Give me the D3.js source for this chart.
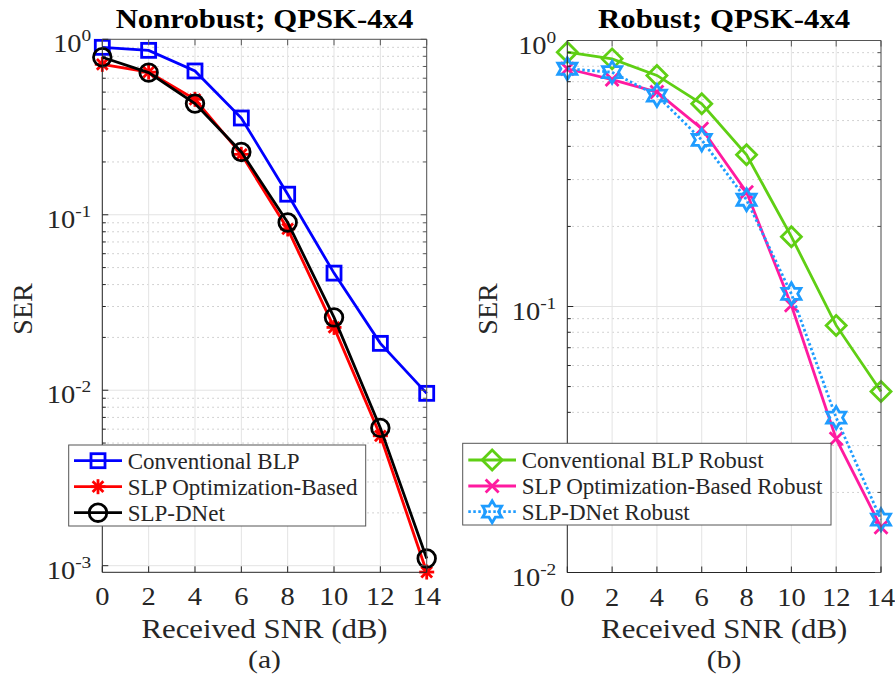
<!DOCTYPE html>
<html>
<head>
<meta charset="utf-8">
<script src="https://cdn.jsdelivr.net/npm/d3@7/dist/d3.min.js"></script>
<style>
  html, body { margin: 0; padding: 0; background: #fff; }
  svg { display: block; }
  text { font-family: "Liberation Serif", "Times New Roman", serif; fill: #262626; }
</style>
</head>
<body>
<svg id="fig" width="895" height="679"></svg>
<script>
// SNR grid shared by both panels (dB)
const snr = [0, 2, 4, 6, 8, 10, 12, 14];

// Panel (a): nonrobust precoders
const serConvBLP   = [0.90, 0.865, 0.66, 0.356, 0.131, 0.0465, 0.0185, 0.0096];
const serSLPOpt    = [0.72, 0.65, 0.455, 0.221, 0.083, 0.0228, 0.0055, 0.00092];
const serSLPDNet   = [0.79, 0.646, 0.43, 0.228, 0.0904, 0.026, 0.0061, 0.0011];

// Panel (b): robust precoders
const serConvBLPRob = [0.904, 0.853, 0.739, 0.578, 0.372, 0.183, 0.0849, 0.0479];
const serSLPOptRob  = [0.783, 0.713, 0.64, 0.466, 0.269, 0.101, 0.0318, 0.0148];
const serSLPDNetRob = [0.783, 0.76, 0.621, 0.423, 0.252, 0.1116, 0.0382, 0.0158];

// Tick labels
const xTicks = [0, 2, 4, 6, 8, 10, 12, 14];
const yExpA = [0, -1, -2, -3];
const yExpB = [0, -1, -2];

const svg = d3.select("#fig");
const SX = 1.14; // horizontal text stretch used for axis text
const LW = 2.8;  // series line width

function stretchedText(g, x, y, str, opts) {
  const t = g.append("text")
    .attr("transform", `translate(${x},${y}) scale(${opts.sx || 1},1)`)
    .attr("text-anchor", opts.anchor || "middle")
    .style("font-size", opts.size + "px");
  if (opts.bold) t.style("font-weight", "bold").style("fill", "#000");
  t.text(str);
  return t;
}

// Marker shapes
function drawMarker(g, type, cx, cy, color) {
  const s = g.append("g").attr("transform", `translate(${cx},${cy})`)
    .attr("fill", "none").attr("stroke", color).attr("stroke-width", LW);
  if (type === "square") {
    s.append("rect").attr("x", -7).attr("y", -7).attr("width", 14).attr("height", 14);
  } else if (type === "circle") {
    s.append("circle").attr("r", 8.8);
  } else if (type === "asterisk") {
    const a = 7.5;
    [[-a,0,a,0],[0,-a,0,a],[-a*0.72,-a*0.72,a*0.72,a*0.72],[-a*0.72,a*0.72,a*0.72,-a*0.72]]
      .forEach(d => s.append("line").attr("x1", d[0]).attr("y1", d[1]).attr("x2", d[2]).attr("y2", d[3]));
  } else if (type === "diamond") {
    const a = 10;
    s.append("path").attr("d", `M0,${-a}L${a},0L0,${a}L${-a},0Z`);
  } else if (type === "x") {
    const a = 6.5;
    s.append("path").attr("d", `M${-a},${-a}L${a},${a}M${-a},${a}L${a},${-a}`);
  } else if (type === "hexagram") {
    const R = 11, r = R / Math.sqrt(3);
    const pts = [];
    for (let k = 0; k < 12; k++) {
      const ang = (-90 + k * 30) * Math.PI / 180;
      const rad = k % 2 === 0 ? R : r;
      pts.push([rad * Math.cos(ang), rad * Math.sin(ang)]);
    }
    s.append("path").attr("d", "M" + pts.map(p => p.join(",")).join("L") + "Z")
      .attr("stroke-linejoin", "miter");
  }
}

function panel(cfg) {
  const g = svg.append("g");
  const x = d3.scaleLinear().domain([0, 14]).range([cfg.x0, cfg.x1]);
  const y = d3.scaleLog().domain([cfg.yMin, 1]).range([cfg.y1, cfg.y0]);

  // minor grid (dotted)
  const minors = [];
  for (let e = -4; e < 0; e++) {
    for (let m = 2; m <= 9; m++) {
      const v = m * Math.pow(10, e);
      if (v >= cfg.yMin && v < 1) minors.push(v);
    }
  }
  g.append("g").selectAll("line").data(minors).join("line")
    .attr("x1", cfg.x0).attr("x2", cfg.x1)
    .attr("y1", d => y(d)).attr("y2", d => y(d))
    .attr("stroke", "#c4c4c4").attr("stroke-width", 1)
    .attr("stroke-dasharray", "1.5,3.5");

  // major grid
  const majors = cfg.yExp.map(e => Math.pow(10, e));
  g.append("g").selectAll("line").data(majors).join("line")
    .attr("x1", cfg.x0).attr("x2", cfg.x1)
    .attr("y1", d => y(d)).attr("y2", d => y(d))
    .attr("stroke", "#e3e3e3").attr("stroke-width", 1);
  g.append("g").selectAll("line").data(xTicks).join("line")
    .attr("x1", d => x(d)).attr("x2", d => x(d))
    .attr("y1", cfg.y0).attr("y2", cfg.y1)
    .attr("stroke", "#e3e3e3").attr("stroke-width", 1);

  // series
  cfg.series.forEach(sr => {
    const line = d3.line().x((d, i) => x(snr[i])).y(d => y(d));
    g.append("path").datum(sr.values).attr("d", line)
      .attr("fill", "none").attr("stroke", sr.color).attr("stroke-width", LW)
      .attr("stroke-dasharray", sr.dash || null);
    sr.values.forEach((v, i) => drawMarker(g, sr.marker, x(snr[i]), y(v), sr.color));
  });

  // axes box
  const ax = g.append("g").attr("stroke", "#262626").attr("stroke-width", 1).attr("fill", "none");
  ax.append("line").attr("x1", cfg.x0).attr("x2", cfg.x0).attr("y1", cfg.y0).attr("y2", cfg.y1);
  ax.append("line").attr("x1", cfg.x0).attr("x2", cfg.x1).attr("y1", cfg.y1).attr("y2", cfg.y1);
  ax.append("line").attr("x1", cfg.x1).attr("x2", cfg.x1).attr("y1", cfg.y0).attr("y2", cfg.y1).attr("stroke", "#555");
  ax.append("line").attr("x1", cfg.x0).attr("x2", cfg.x1).attr("y1", cfg.y0).attr("y2", cfg.y0).attr("stroke", "#555");

  // ticks (inward)
  majors.forEach(v => {
    ax.append("line").attr("x1", cfg.x0).attr("x2", cfg.x0 + 6).attr("y1", y(v)).attr("y2", y(v));
    ax.append("line").attr("x1", cfg.x1).attr("x2", cfg.x1 - 6).attr("y1", y(v)).attr("y2", y(v)).attr("stroke", "#555");
  });
  minors.forEach(v => {
    ax.append("line").attr("x1", cfg.x0).attr("x2", cfg.x0 + 3.5).attr("y1", y(v)).attr("y2", y(v));
    ax.append("line").attr("x1", cfg.x1).attr("x2", cfg.x1 - 3.5).attr("y1", y(v)).attr("y2", y(v)).attr("stroke", "#555");
  });
  xTicks.forEach(v => {
    ax.append("line").attr("x1", x(v)).attr("x2", x(v)).attr("y1", cfg.y1).attr("y2", cfg.y1 - 6);
    ax.append("line").attr("x1", x(v)).attr("x2", x(v)).attr("y1", cfg.y0).attr("y2", cfg.y0 + 6).attr("stroke", "#555");
  });

  // x tick labels
  xTicks.forEach(v => stretchedText(g, x(v), cfg.y1 + 33, String(v), { size: 25, sx: SX }));

  // y tick labels 10^e
  cfg.yExp.forEach(e => {
    const t = g.append("text")
      .attr("transform", `translate(${cfg.x0 - 11},${y(Math.pow(10, e)) + 13}) scale(${SX},1)`)
      .attr("text-anchor", "end").style("font-size", "25px");
    t.append("tspan").text("10");
    t.append("tspan").attr("dy", -11).style("font-size", "17px").text(String(e));
  });

  const cx = (cfg.x0 + cfg.x1) / 2;
  // title
  stretchedText(g, cx, 28, cfg.title, { size: 27, sx: SX, bold: true });
  // axis labels
  stretchedText(g, cx, 638, "Received SNR (dB)", { size: 27, sx: SX });
  stretchedText(g, cx, 668, cfg.tag, { size: 26, sx: SX });
  g.append("text")
    .attr("transform", `translate(${cfg.yLabX},${309}) rotate(-90)`)
    .attr("text-anchor", "middle").style("font-size", "28px").text("SER");

  // legend
  const L = cfg.legend;
  const lg = g.append("g");
  lg.append("rect").attr("x", L.x).attr("y", L.y).attr("width", L.w).attr("height", L.h)
    .attr("fill", "#fff").attr("stroke", "#555").attr("stroke-width", 1);
  cfg.series.forEach((sr, i) => {
    const ry = L.rows[i];
    lg.append("line").attr("x1", L.lx0).attr("x2", L.lx1).attr("y1", ry).attr("y2", ry)
      .attr("stroke", sr.color).attr("stroke-width", LW).attr("stroke-dasharray", sr.dash || null);
    drawMarker(lg, sr.marker, (L.lx0 + L.lx1) / 2, ry, sr.color);
    lg.append("text").attr("x", L.tx).attr("y", ry + 8).style("font-size", "23px").text(sr.name);
  });
}

panel({
  x0: 102.3, x1: 426.7, y0: 39.3, y1: 572.3, yMin: 9.17e-4,
  yExp: yExpA, title: "Nonrobust; QPSK-4x4", tag: "(a)", yLabX: 32,
  series: [
    { name: "Conventional BLP", values: serConvBLP, color: "#0000ff", marker: "square" },
    { name: "SLP Optimization-Based", values: serSLPOpt, color: "#ff0000", marker: "asterisk" },
    { name: "SLP-DNet", values: serSLPDNet, color: "#000000", marker: "circle" }
  ],
  legend: { x: 68.7, y: 445, w: 297, h: 81, rows: [460.7, 486.7, 512.7], lx0: 74, lx1: 122, tx: 127.7 }
});

panel({
  x0: 567.3, x1: 881, y0: 40.5, y1: 572.5, yMin: 1e-2,
  yExp: yExpB, title: "Robust; QPSK-4x4", tag: "(b)", yLabX: 497,
  series: [
    { name: "Conventional BLP Robust", values: serConvBLPRob, color: "#5fcf14", marker: "diamond" },
    { name: "SLP Optimization-Based Robust", values: serSLPOptRob, color: "#ff1aa0", marker: "x" },
    { name: "SLP-DNet Robust", values: serSLPDNetRob, color: "#1e9cff", marker: "hexagram", dash: "2.5,2.5" }
  ],
  legend: { x: 462.7, y: 443.3, w: 368.3, h: 81.7, rows: [460, 486, 511.7], lx0: 468.3, lx1: 516, tx: 521.7 }
});
</script>
</body>
</html>
